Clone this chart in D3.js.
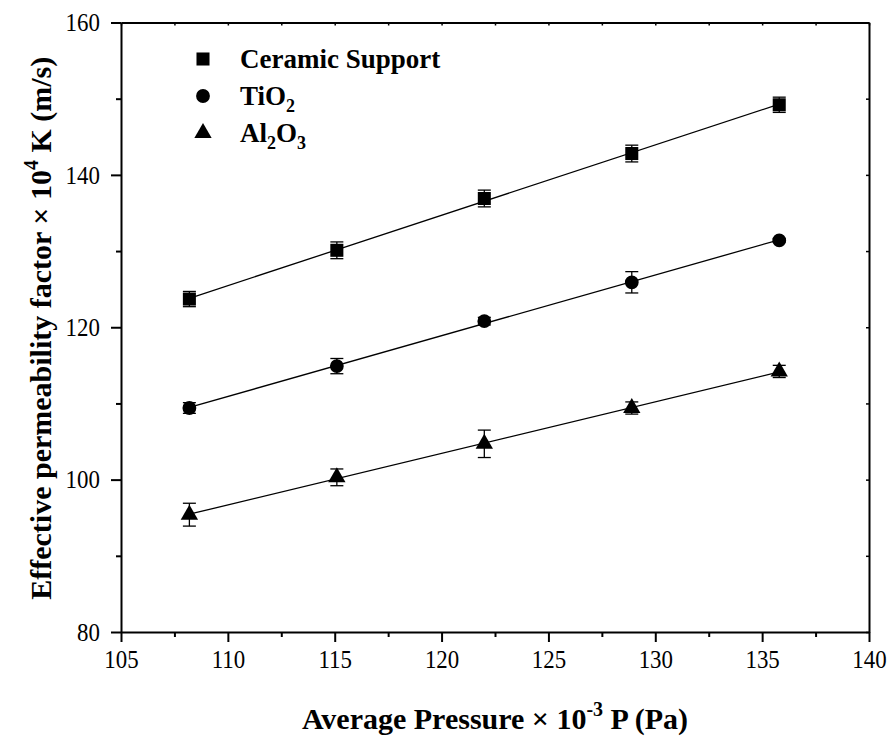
<!DOCTYPE html>
<html>
<head>
<meta charset="utf-8">
<script src="https://cdn.jsdelivr.net/npm/d3@7"></script>
<style>
  html, body { margin: 0; padding: 0; background: #fff; }
  svg { display: block; }
  svg text { font-family: "Liberation Serif", "Times New Roman", "DejaVu Serif", serif !important; fill: #000; }
</style>
</head>
<body>
<svg id="chart" width="890" height="738"></svg>
<script>
// ---- data ----
const pressure = [108.2, 115.1, 122.0, 128.9, 135.8];
const ceramic = [123.7, 130.1, 136.9, 142.8, 149.2];
const ceramicErr = [1.0, 1.1, 1.1, 1.1, 1.0];
const tio2 = [109.4, 114.9, 120.8, 125.9, 131.4];
const tio2Err = [0.7, 1.0, 0.5, 1.4, 0.2];
const al2o3 = [95.4, 100.3, 104.7, 109.4, 114.2];
const al2o3Err = [1.5, 1.1, 1.8, 0.8, 0.8];
const xTicks = [105, 110, 115, 120, 125, 130, 135, 140];
const yTicks = [80, 100, 120, 140, 160];

const series = [
  { name: "Ceramic Support", sub: null, vals: ceramic, err: ceramicErr, symbol: d3.symbolSquare, size: 170 },
  { name: "TiO", sub: "2", vals: tio2, err: tio2Err, symbol: d3.symbolCircle, size: 150 },
  { name: "Al", sub: "2", name2: "O", sub2: "3", vals: al2o3, err: al2o3Err, symbol: d3.symbolTriangle, size: 130 }
];

const FONT = '"Liberation Serif", "Times New Roman", serif';
const svg = d3.select("#chart");
const L = 121, R = 869, T = 22.5, B = 632;
const x = d3.scaleLinear().domain([105, 140]).range([L, R]);
const y = d3.scaleLinear().domain([80, 160]).range([B, T]);

const xMinor = d3.range(105, 140.01, 2.5);
const yMinor = d3.range(80, 160.01, 10);

const fontScale = 0.88;
const gx = svg.append("g").attr("transform", `translate(0,${B})`)
  .call(d3.axisBottom(x).tickValues(xTicks).tickSize(10).tickSizeOuter(0).tickPadding(8).tickFormat(d3.format("d")));
gx.attr("font-family", null);
gx.selectAll("text").style("font-family", FONT).attr("font-size", 26)
  .attr("transform", `scale(${fontScale},1)`);
gx.select(".domain").attr("stroke-width", 2);
gx.selectAll(".tick line").attr("stroke-width", 2);
svg.append("g").attr("transform", `translate(0,${B})`)
  .call(d3.axisBottom(x).tickValues(xMinor.filter(v => !xTicks.includes(v))).tickSize(5).tickFormat(""))
  .call(g => g.select(".domain").remove())
  .selectAll("line").attr("stroke-width", 2);

const gy = svg.append("g").attr("transform", `translate(${L},0)`)
  .call(d3.axisLeft(y).tickValues(yTicks).tickSize(10).tickSizeOuter(0).tickPadding(14).tickFormat(d3.format("d")));
gy.attr("font-family", null);
gy.selectAll("text").style("font-family", FONT).attr("font-size", 26)
  .attr("transform", `scale(${fontScale},1)`);
gy.select(".domain").attr("stroke-width", 2);
gy.selectAll(".tick line").attr("stroke-width", 2);
svg.append("g").attr("transform", `translate(${L},0)`)
  .call(d3.axisLeft(y).tickValues(yMinor.filter(v => !yTicks.includes(v))).tickSize(5).tickFormat(""))
  .call(g => g.select(".domain").remove())
  .selectAll("line").attr("stroke-width", 2);

const gt = svg.append("g").attr("transform", `translate(0,${T})`)
  .call(d3.axisBottom(x).tickValues(xMinor).tickSize(3).tickSizeOuter(0).tickFormat(""));
gt.select(".domain").attr("stroke-width", 2);
gt.selectAll(".tick line").attr("stroke-width", 1.5);
const gr = svg.append("g").attr("transform", `translate(${R},0)`)
  .call(d3.axisLeft(y).tickValues(yMinor).tickSize(3).tickSizeOuter(0).tickFormat(""));
gr.select(".domain").attr("stroke-width", 2);
gr.selectAll(".tick line").attr("stroke-width", 1.5);

// fit lines (least squares)
series.forEach(s => {
  const n = pressure.length;
  const mx = d3.mean(pressure), my = d3.mean(s.vals);
  let num = 0, den = 0;
  for (let i = 0; i < n; i++) { num += (pressure[i] - mx) * (s.vals[i] - my); den += (pressure[i] - mx) ** 2; }
  const slope = num / den, icpt = my - slope * mx;
  const x0 = d3.min(pressure), x1 = d3.max(pressure);
  svg.append("line")
    .attr("x1", x(x0)).attr("y1", y(icpt + slope * x0))
    .attr("x2", x(x1)).attr("y2", y(icpt + slope * x1))
    .attr("stroke", "#000").attr("stroke-width", 1.3);
});

const capW = 6.5;
series.forEach(s => {
  const g = svg.append("g");
  pressure.forEach((p, i) => {
    const v = s.vals[i], e = s.err[i];
    const px = x(p);
    g.append("line").attr("x1", px).attr("x2", px).attr("y1", y(v - e)).attr("y2", y(v + e))
      .attr("stroke", "#000").attr("stroke-width", 1.3);
    [v - e, v + e].forEach(ev => {
      g.append("line").attr("x1", px - capW).attr("x2", px + capW).attr("y1", y(ev)).attr("y2", y(ev))
        .attr("stroke", "#000").attr("stroke-width", 1.3);
    });
    g.append("path").attr("d", d3.symbol().type(s.symbol).size(s.size)())
      .attr("transform", `translate(${px},${y(v)})`).attr("fill", "#000");
  });
});

// legend
const legY = [59, 96, 133];
series.forEach((s, i) => {
  svg.append("path").attr("d", d3.symbol().type(s.symbol).size(s.size)())
    .attr("transform", `translate(203,${legY[i]})`).attr("fill", "#000");
  const t = svg.append("text").attr("x", 240).attr("y", legY[i] + 9)
    .style("font-family", FONT).attr("font-size", 27).attr("font-weight", "bold");
  t.append("tspan").text(s.name);
  if (s.sub) t.append("tspan").attr("font-size", 18).attr("dy", 7).text(s.sub);
  if (s.name2) t.append("tspan").attr("dy", -7).text(s.name2);
  if (s.sub2) t.append("tspan").attr("font-size", 18).attr("dy", 7).text(s.sub2);
});

// axis titles
const xt = svg.append("text").attr("x", (L + R) / 2).attr("y", 729)
  .style("font-family", FONT)
  .attr("text-anchor", "middle").attr("font-size", 30).attr("font-weight", "bold");
xt.append("tspan").text("Average Pressure × 10");
xt.append("tspan").attr("font-size", 20).attr("dy", -13).text("-3");
xt.append("tspan").attr("dy", 13).text(" P (Pa)");

const yt = svg.append("text")
  .attr("transform", `translate(51,${(T + B) / 2 + 1}) rotate(-90)`)
  .style("font-family", FONT)
  .attr("text-anchor", "middle").attr("font-size", 30).attr("font-weight", "bold");
yt.append("tspan").text("Effective permeability factor × 10");
yt.append("tspan").attr("font-size", 20).attr("dy", -13).text("4");
yt.append("tspan").attr("dy", 13).text(" K (m/s)");
</script>
</body>
</html>
